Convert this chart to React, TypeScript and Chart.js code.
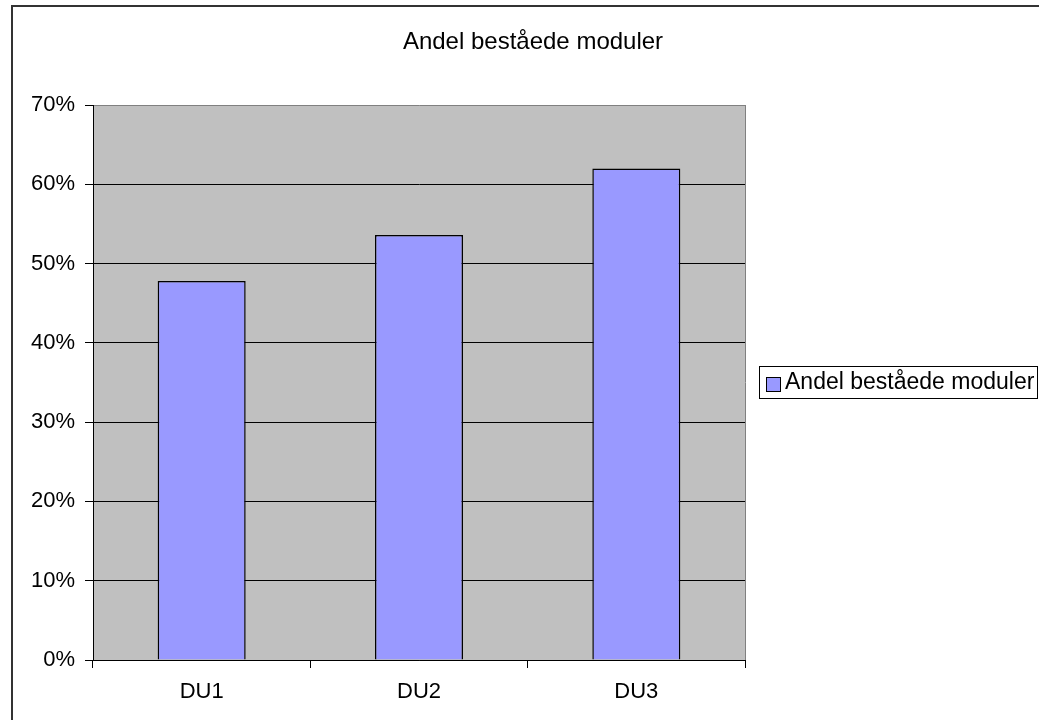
import React, { useEffect, useRef } from "react";
import { Chart, registerables } from "chart.js";

Chart.register(...registerables);

const TITLE = "Andel beståede moduler";
const SERIES_NAME = "Andel beståede moduler";
const CATEGORIES = ["DU1", "DU2", "DU3"];
const VALUES = [47.8, 53.6, 62.0];
const Y_MIN = 0;
const Y_MAX = 70;
const Y_STEP = 10;

const FONT = "'Liberation Sans', Arial, sans-serif";
const BAR_COLOR = "#9999ff";
const PLOT_BG = "#c0c0c0";

const framePlugin = {
  id: "frame",
  beforeDraw(chart: any) {
    const { ctx, chartArea } = chart;
    ctx.save();
    ctx.fillStyle = "#ffffff";
    ctx.fillRect(0, 0, chart.width, chart.height);
    // outer border
    ctx.strokeStyle = "#333333";
    ctx.lineWidth = 2;
    ctx.strokeRect(12, 6, chart.width + 20, chart.height + 20);
    // plot background
    ctx.fillStyle = PLOT_BG;
    ctx.fillRect(chartArea.left, chartArea.top, chartArea.right - chartArea.left, chartArea.bottom - chartArea.top);
    // right border of plot
    ctx.strokeStyle = "#808080";
    ctx.lineWidth = 1;
    ctx.beginPath();
    ctx.moveTo(chartArea.right + 0.5, chartArea.top);
    ctx.lineTo(chartArea.right + 0.5, chartArea.bottom);
    ctx.stroke();
    // title
    ctx.fillStyle = "#000";
    ctx.font = `24px ${FONT}`;
    ctx.textAlign = "center";
    ctx.textBaseline = "middle";
    ctx.fillText(TITLE, 533, 42);
    // legend
    const lx = 759, ly = 366, lw = 278, lh = 32;
    ctx.fillStyle = "#fff";
    ctx.fillRect(lx, ly, lw, lh);
    ctx.strokeStyle = "#000";
    ctx.lineWidth = 1;
    ctx.strokeRect(lx + 0.5, ly + 0.5, lw, lh);
    ctx.fillStyle = BAR_COLOR;
    ctx.fillRect(766, 377, 14, 14);
    ctx.strokeRect(766.5, 377.5, 14, 14);
    ctx.fillStyle = "#000";
    ctx.textAlign = "left";
    ctx.font = `23px ${FONT}`;
    ctx.fillText(SERIES_NAME, 785, 383);
    ctx.restore();
  },
};

export default function App() {
  const ref = useRef<HTMLCanvasElement>(null);
  useEffect(() => {
    if (!ref.current) return;
    const chart = new Chart(ref.current, {
      type: "bar",
      data: {
        labels: CATEGORIES,
        datasets: [
          {
            label: SERIES_NAME,
            data: VALUES,
            backgroundColor: BAR_COLOR,
            borderColor: "#000000",
            borderWidth: 1.5,
            barPercentage: 0.405,
            categoryPercentage: 1,
          },
        ],
      },
      options: {
        animation: false,
        responsive: false,
        maintainAspectRatio: false,
        devicePixelRatio: 1,
        layout: { padding: { left: 12, right: 294, top: 105, bottom: 0 } },
        plugins: {
          legend: { display: false },
          title: { display: false },
          tooltip: { enabled: false },
        },
        scales: {
          x: {
            grid: {
              offset: true,
              drawOnChartArea: false,
              drawTicks: true,
              tickLength: 8,
              color: "#000000",
            },
            border: { color: "#000000", width: 1 },
            ticks: { color: "#000", font: { family: FONT, size: 22 }, padding: 11 },
            afterFit: (s: any) => {
              s.height = 60;
            },
          },
          y: {
            min: Y_MIN,
            max: Y_MAX,
            ticks: {
              stepSize: Y_STEP,
              color: "#000",
              font: { family: FONT, size: 22 },
              padding: 10,
              callback: (v: any) => `${v}%`,
            },
            grid: {
              color: (c: any) => (c.tick && c.tick.value === Y_MAX ? "#808080" : "#000000"),
              tickColor: "#000000",
              tickLength: 8,
              lineWidth: 1,
            },
            border: { color: "#000000", width: 1 },
            afterFit: (s: any) => {
              s.width = 81;
            },
          },
        },
      },
      plugins: [framePlugin],
    });
    return () => chart.destroy();
  }, []);
  return (
    <div style={{ position: "fixed", left: 0, top: 0, width: 1039, height: 720 }}>
      <canvas ref={ref} width={1039} height={720} style={{ width: 1039, height: 720 }} />
    </div>
  );
}
